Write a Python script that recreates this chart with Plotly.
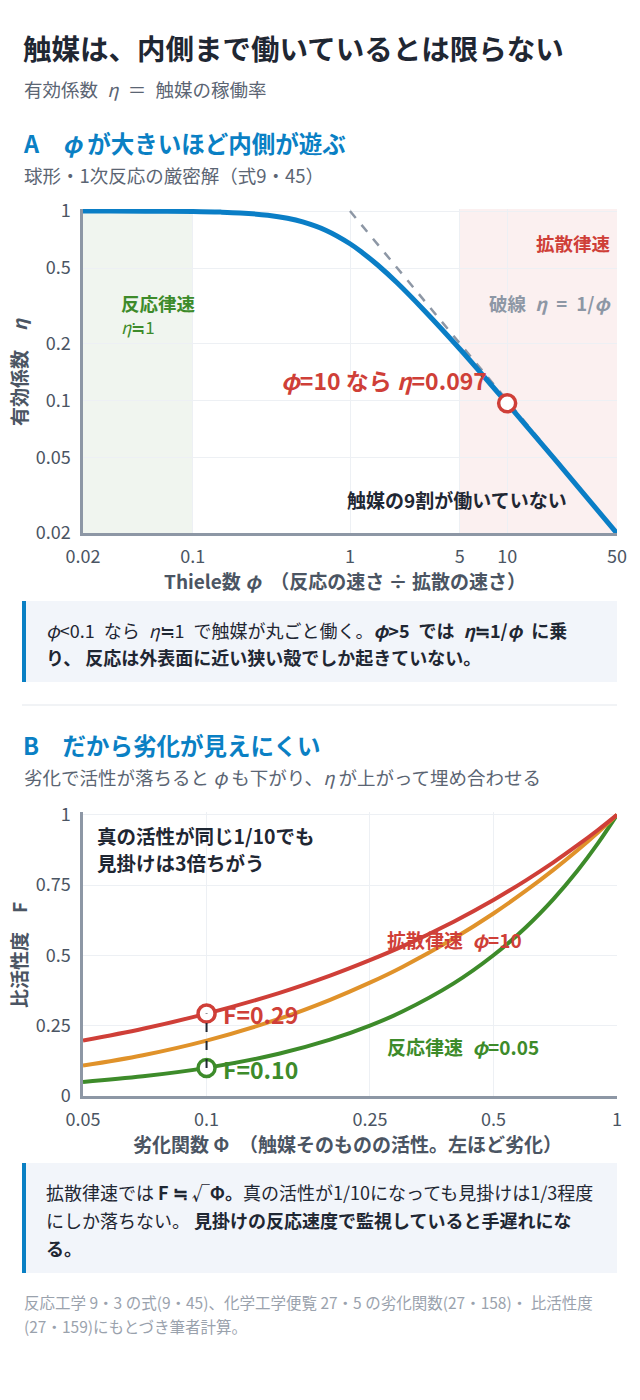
import plotly.graph_objects as go
import math

# ---------------- data ----------------
# Panel A: effectiveness factor of a sphere
phi_A = [0.02, 0.03, 0.05, 0.1, 0.15, 0.2, 0.3, 0.4, 0.5, 0.7, 1.0, 1.2, 1.5, 2.0, 3.0, 5.0, 7.0, 10.0, 20.0, 50.0]
eta_A = [1.000, 0.9995, 0.9985, 0.994, 0.987, 0.977, 0.950, 0.916, 0.876, 0.792, 0.672, 0.603, 0.519, 0.417, 0.296, 0.187, 0.136, 0.0967, 0.0492, 0.0199]
asym_phi = [1.0, 50.0]
asym_eta = [1.0, 0.02]
point_A_phi = [10.0]
point_A_eta = [0.0967]
xticks_A = [0.02, 0.1, 1, 5, 10, 50]
xticktext_A = ["0.02", "0.1", "1", "5", "10", "50"]
yticks_A = [0.02, 0.05, 0.1, 0.2, 0.5, 1]
yticktext_A = ["0.02", "0.05", "0.1", "0.2", "0.5", "1"]

# Panel B: apparent relative activity F vs deactivation function
Phi_B = [0.05, 0.07, 0.1, 0.15, 0.2, 0.25, 0.3, 0.4, 0.5, 0.6, 0.7, 0.8, 0.9, 1.0]
F_diff = [0.197, 0.239, 0.293, 0.366, 0.428, 0.483, 0.532, 0.620, 0.697, 0.767, 0.831, 0.891, 0.947, 1.0]
F_mid = [0.108, 0.145, 0.197, 0.274, 0.342, 0.403, 0.459, 0.560, 0.649, 0.730, 0.804, 0.873, 0.938, 1.0]
F_react = [0.0501, 0.0701, 0.1001, 0.1502, 0.2002, 0.2503, 0.3003, 0.4004, 0.5004, 0.6004, 0.7004, 0.8003, 0.9002, 1.0]
mark_Phi = [0.1]
mark_F_diff = [0.293]
mark_F_react = [0.100]
xticks_B = [0.05, 0.1, 0.25, 0.5, 1]
xticktext_B = ["0.05", "0.1", "0.25", "0.5", "1"]
yticks_B = [0, 0.25, 0.5, 0.75, 1]
yticktext_B = ["0", "0.25", "0.5", "0.75", "1"]

# ---------------- style ----------------
FONT = "Noto Sans CJK JP"
DARK = "#1f2733"
GRAYTXT = "#5b6573"
TICK = "#4b5563"
AXIS = "#8d97a5"
GRID = "#edf0f4"
BLUE_H = "#0a80c4"
BLUE = "#0a7ec6"
RED = "#cf3f38"
GREEN = "#3d8b2a"
ORANGE = "#e0922a"
DASHGRAY = "#8d97a5"
SP = "\u2002"

W, H = 640, 1400


def X(px):
    return px / W


def Y(py):
    return 1 - py / H


fig = go.Figure()

# Panel A traces
fig.add_trace(go.Scatter(x=asym_phi, y=asym_eta, mode="lines",
                         line=dict(color=DASHGRAY, width=2.5, dash="dash"),
                         xaxis="x", yaxis="y", hoverinfo="skip", showlegend=False))
fig.add_trace(go.Scatter(x=phi_A, y=eta_A, mode="lines", line_shape="spline",
                         line=dict(color=BLUE, width=5),
                         xaxis="x", yaxis="y", showlegend=False))
fig.add_trace(go.Scatter(x=point_A_phi, y=point_A_eta, mode="markers",
                         marker=dict(size=17, color="white", line=dict(color=RED, width=3.5)),
                         xaxis="x", yaxis="y", showlegend=False))

# Panel B traces
fig.add_trace(go.Scatter(x=Phi_B, y=F_react, mode="lines", line_shape="spline",
                         line=dict(color=GREEN, width=4), xaxis="x2", yaxis="y2", showlegend=False))
fig.add_trace(go.Scatter(x=Phi_B, y=F_mid, mode="lines", line_shape="spline",
                         line=dict(color=ORANGE, width=4), xaxis="x2", yaxis="y2", showlegend=False))
fig.add_trace(go.Scatter(x=Phi_B, y=F_diff, mode="lines", line_shape="spline",
                         line=dict(color=RED, width=4), xaxis="x2", yaxis="y2", showlegend=False))
fig.add_trace(go.Scatter(x=mark_Phi, y=mark_F_diff, mode="markers",
                         marker=dict(size=17, color="white", line=dict(color=RED, width=3.5)),
                         xaxis="x2", yaxis="y2", showlegend=False))
fig.add_trace(go.Scatter(x=mark_Phi, y=mark_F_react, mode="markers",
                         marker=dict(size=17, color="white", line=dict(color=GREEN, width=3.5)),
                         xaxis="x2", yaxis="y2", showlegend=False))
fig.add_trace(go.Scatter(x=mark_Phi + mark_Phi, y=mark_F_react + mark_F_diff, mode="lines",
                         line=dict(color=DARK, width=2, dash="dash"),
                         xaxis="x2", yaxis="y2", showlegend=False))

shapes = []
# shading in panel A
shapes.append(dict(type="rect", xref="x", yref="y domain", x0=0.02, x1=0.1, y0=0, y1=1,
                   fillcolor="#f0f5ef", line_width=0, layer="below"))
shapes.append(dict(type="rect", xref="x", yref="y domain", x0=5, x1=50, y0=0, y1=1,
                   fillcolor="#fbf0f0", line_width=0, layer="below"))
# callout boxes
for (t, b) in [(601, 682), (1163, 1273)]:
    shapes.append(dict(type="rect", xref="paper", yref="paper", x0=X(22), x1=X(617), y0=Y(b), y1=Y(t),
                       fillcolor="#f2f5fa", line_width=0, layer="below"))
    shapes.append(dict(type="rect", xref="paper", yref="paper", x0=X(22), x1=X(26), y0=Y(b), y1=Y(t),
                       fillcolor=BLUE_H, line_width=0, layer="below"))
# divider
shapes.append(dict(type="line", xref="paper", yref="paper", x0=X(22), x1=X(617), y0=Y(705), y1=Y(705),
                   line=dict(color="#e3e7ec", width=1)))

ann = []


def txt(s, px, py, size, color, anchor="left", bold=False, angle=0):
    ann.append(dict(text=("<b>%s</b>" % s) if bold else s, x=X(px), y=Y(py), xref="paper", yref="paper",
                    xanchor=anchor, yanchor="middle", showarrow=False, textangle=angle,
                    font=dict(family=FONT, size=size, color=color)))


# headers
txt("触媒は、内側まで働いているとは限らない", 21, 47, 28.5, DARK, bold=True)
txt("有効係数" + SP + "<i>η</i>" + SP + "＝" + SP + "触媒の稼働率", 22, 89, 18.5, GRAYTXT)
txt("A　<i>φ</i> が大きいほど内側が遊ぶ", 21, 143, 23.5, BLUE_H, bold=True)
txt("球形・1次反応の厳密解（式9・45）", 22, 175, 18.5, GRAYTXT)

# panel A labels
txt("反応律速", 119, 303, 18.5, GREEN, bold=True)
txt("<i>η</i>≒1", 119, 327, 17, GREEN)
txt("拡散律速", 613, 243, 18.5, RED, anchor="right", bold=True)
txt("破線" + SP + "<i>η</i>" + SP + "=" + SP + "1/<i>φ</i>", 613, 303, 18.5, DASHGRAY, anchor="right", bold=True)
txt("<i>φ</i>=10 なら <i>η</i>=0.097", 279, 380, 23, RED, bold=True)
txt("触媒の9割が働いていない", 345, 499, 19, DARK, bold=True)

# axis titles panel A
txt("Thiele数 <i>φ</i>　（反応の速さ ÷ 拡散の速さ）", 345, 580, 19, TICK, anchor="center", bold=True)
txt("有効係数　<i>η</i>", 18, 372, 19, TICK, anchor="center", bold=True, angle=-90)

# callout A
txt("<i>φ</i><0.1" + SP + "なら" + SP + "<i>η</i>≒1" + SP + "で触媒が丸ごと働く。<b><i>φ</i>>5" + SP + "では" + SP
    + "<i>η</i>≒1/<i>φ</i>" + SP + "に乗</b>", 44, 630, 18, DARK)
txt("<b>り、 反応は外表面に近い狭い殻でしか起きていない。</b>", 44, 657, 18, DARK)

# section B headers
txt("B　だから劣化が見えにくい", 21, 745, 23.5, BLUE_H, bold=True)
txt("劣化で活性が落ちると <i>φ</i> も下がり、<i>η</i> が上がって埋め合わせる", 22, 777, 18.5, GRAYTXT)

# panel B labels
txt("真の活性が同じ1/10でも", 95, 835, 19.5, DARK, bold=True)
txt("見掛けは3倍ちがう", 95, 862, 19.5, DARK, bold=True)
txt("拡散律速" + SP + "<i>φ</i>=10", 385, 939, 19, RED, bold=True)
txt("反応律速" + SP + "<i>φ</i>=0.05", 385, 1046, 19, GREEN, bold=True)
txt("F=0.29", 221, 1014, 23, RED, bold=True)
txt("F=0.10", 221, 1069, 23, GREEN, bold=True)

# axis titles panel B
txt("劣化関数 Φ　（触媒そのものの活性。左ほど劣化）", 347, 1143, 19, TICK, anchor="center", bold=True)
txt("比活性度　F", 18, 955, 19, TICK, anchor="center", bold=True, angle=-90)

# callout B
txt("拡散律速では <b>F ≒ √Φ。</b>真の活性が1/10になっても見掛けは1/3程度", 44, 1192, 18, DARK)
txt("にしか落ちない。 <b>見掛けの反応速度で監視していると手遅れにな</b>", 44, 1220, 18, DARK)
txt("<b>る。</b>", 44, 1248, 18, DARK)

# footer
txt("反応工学 9・3 の式(9・45)、化学工学便覧 27・5 の劣化関数(27・158)・ 比活性度", 22, 1302, 15.5, "#9aa2ad")
txt("(27・159)にもとづき筆者計算。", 22, 1326, 15.5, "#9aa2ad")

axis_common = dict(showline=True, linecolor=AXIS, linewidth=2.5, showgrid=True, gridcolor=GRID,
                   gridwidth=1, zeroline=False, ticks="", automargin=False,
                   tickfont=dict(family=FONT, size=18, color=TICK),
                   mirror=False, fixedrange=True, ticklabelstandoff=6)

yA_top = math.log10(1.025)
xaxis = dict(axis_common, type="log", range=[math.log10(0.02), math.log10(50)],
             tickvals=xticks_A, ticktext=xticktext_A, domain=[X(83), X(617)], anchor="y")
yaxis = dict(axis_common, type="log", range=[math.log10(0.02), yA_top],
             tickvals=yticks_A, ticktext=yticktext_A, domain=[Y(533), Y(209)], anchor="x")
xaxis2 = dict(axis_common, type="log", range=[math.log10(0.05), 0],
              tickvals=xticks_B, ticktext=xticktext_B, domain=[X(83), X(617)], anchor="y2")
yaxis2 = dict(axis_common, type="linear", range=[0, 1.01],
              tickvals=yticks_B, ticktext=yticktext_B, domain=[Y(1096), Y(812)], anchor="x2")

fig.update_layout(width=W, height=H, autosize=False, margin=dict(l=0, r=0, t=0, b=0, pad=0),
                  paper_bgcolor="white", plot_bgcolor="white",
                  font=dict(family=FONT, color=DARK),
                  xaxis=xaxis, yaxis=yaxis, xaxis2=xaxis2, yaxis2=yaxis2,
                  shapes=shapes, annotations=ann, showlegend=False)

fig.write_html("out.html", config={"displayModeBar": False},
               post_script="document.body.style.margin='0';")
